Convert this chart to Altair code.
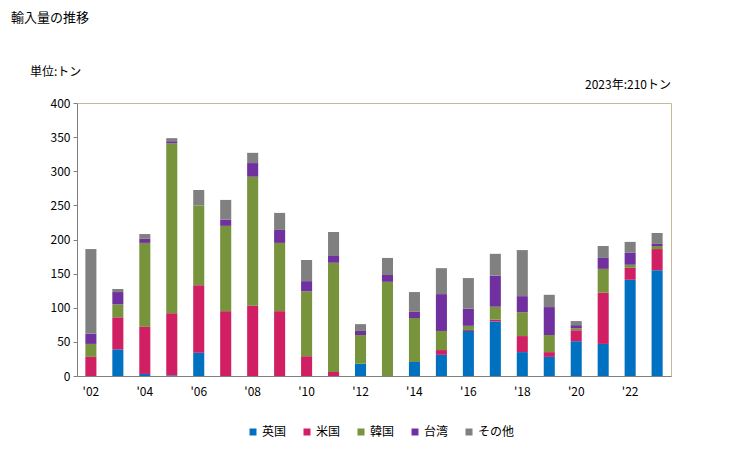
import altair as alt
import pandas as pd

years = list(range(2002, 2024))
series_names = ["英国", "米国", "韓国", "台湾", "その他"]
uk = [0, 39, 3, 1, 34, 0, 0, 0, 0, 0, 18, 0, 20.5, 31, 66, 80, 35, 28, 51, 47, 141, 155]
us = [28, 47, 69, 91, 99, 95, 103, 95, 29, 6, 0, 0, 0, 7, 1.5, 2.5, 23.5, 7, 16, 75, 17.5, 31]
kr = [19, 19, 123, 249, 117, 125, 189, 100, 95, 160, 42, 138, 64.5, 28, 6, 19, 35, 25, 3, 35, 4.5, 4.5]
tw = [15, 18, 6, 3, 0, 9, 20, 19, 15, 10, 6, 10, 9, 54, 25, 45.5, 23.5, 41, 4.5, 16, 17.5, 3]
other = [124, 4.5, 7, 4.5, 22.5, 29, 15, 25, 31, 35, 10, 25, 29, 38, 45, 32, 67.5, 18, 6, 17.5, 16, 16]
colors = ["#0070c0", "#d01f62", "#77933c", "#7030a0", "#808080"]

title_text = "輸入量の推移"
unit_text = "単位:トン"
total_text = "2023年:210トン"
y_ticks = [0, 50, 100, 150, 200, 250, 300, 350, 400]

rows = []
for idx, (name, vals) in enumerate(zip(series_names, [uk, us, kr, tw, other])):
    for yr, v in zip(years, vals):
        rows.append({"year": yr, "country": name, "value": v, "ord": idx})
df = pd.DataFrame(rows)

font = "Noto Sans CJK JP"

bars = alt.Chart(df).mark_bar().encode(
    x=alt.X(
        "year:O",
        scale=alt.Scale(paddingInner=0.59, paddingOuter=0.31),
        axis=alt.Axis(
            title=None,
            labelExpr="datum.value % 2 == 0 ? \"'\" + substring(toString(datum.value), 2, 4) : ''",
            labelAngle=0,
            ticks=False,
            domainColor="#808080",
            labelPadding=10,
            labelFontSize=12,
            labelFont=font,
            labelColor="#000000",
        ),
    ),
    y=alt.Y(
        "value:Q",
        stack="zero",
        scale=alt.Scale(domain=[0, 400], nice=False),
        axis=alt.Axis(
            title=None,
            values=y_ticks,
            grid=False,
            tickSize=4,
            tickColor="#808080",
            domainColor="#808080",
            labelPadding=3,
            labelFontSize=12,
            labelFont=font,
            labelColor="#000000",
        ),
    ),
    color=alt.Color(
        "country:N",
        scale=alt.Scale(domain=series_names, range=colors),
        legend=alt.Legend(
            title=None,
            orient="none",
            legendX=170,
            legendY=323,
            direction="horizontal",
            symbolType="square",
            symbolSize=49,
            symbolStrokeWidth=0,
            labelFontSize=12,
            labelFont=font,
            labelColor="#000000",
            labelOffset=3,
            gridAlign="all",
            columnPadding=2,
        ),
    ),
    order=alt.Order("ord:Q", sort="ascending"),
)

t1 = alt.Chart(pd.DataFrame({"t": [title_text]})).mark_text(
    align="left", baseline="top", fontSize=13, font=font, color="#000000"
).encode(x=alt.value(-66), y=alt.value(-91), text="t:N")

t2 = alt.Chart(pd.DataFrame({"t": [unit_text]})).mark_text(
    align="left", baseline="middle", fontSize=12, font=font, color="#000000"
).encode(x=alt.value(-47), y=alt.value(-31), text="t:N")

t3 = alt.Chart(pd.DataFrame({"t": [total_text]})).mark_text(
    align="right", baseline="middle", fontSize=12, font=font, color="#000000"
).encode(x=alt.value(594), y=alt.value(-18), text="t:N")

chart = alt.layer(bars, t1, t2, t3).properties(
    width=594,
    height=273,
    autosize=alt.AutoSizeParams(type="none"),
    padding={"left": 69, "top": 95, "right": 50, "bottom": 70},
).configure_view(stroke="#c4bc96", strokeWidth=1)

chart.save("out.html", embed_options={"renderer": "svg", "actions": False})
